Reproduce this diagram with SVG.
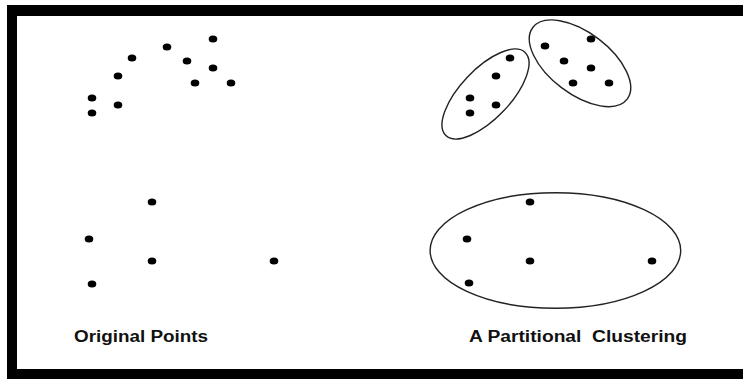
<svg xmlns="http://www.w3.org/2000/svg" width="743" height="379" viewBox="0 0 743 379">
  <style>
    .pt { fill: #000; }
    .hull { fill: none; stroke: #222; stroke-width: 1.4; }
    .lbl { font-family: "Liberation Sans", Arial, sans-serif; font-weight: bold; font-size: 16px; fill: #111; }
  </style>
  <defs>
    <ellipse id="dot" cx="0" cy="0" rx="4.3" ry="3.6"/>
  </defs>
  <rect width="743" height="379" fill="#fff"/>

  <!-- frame -->
  <g id="frame" fill="#000">
    <rect x="7" y="5" width="736" height="11"/>
    <rect x="7" y="5" width="10" height="373"/>
    <rect x="7" y="369" width="736" height="10"/>
  </g>

  <!-- left panel: unclustered points -->
  <g id="original-points" class="pt">
    <use href="#dot" x="213" y="39"/>
    <use href="#dot" x="167" y="47"/>
    <use href="#dot" x="132" y="58"/>
    <use href="#dot" x="187" y="61"/>
    <use href="#dot" x="213" y="68"/>
    <use href="#dot" x="118" y="76"/>
    <use href="#dot" x="195" y="83"/>
    <use href="#dot" x="231" y="83"/>
    <use href="#dot" x="92" y="98"/>
    <use href="#dot" x="118" y="105"/>
    <use href="#dot" x="92" y="113"/>
    <use href="#dot" x="152" y="202"/>
    <use href="#dot" x="89" y="239"/>
    <use href="#dot" x="152" y="261"/>
    <use href="#dot" x="274" y="261"/>
    <use href="#dot" x="92" y="284"/>
  </g>

  <!-- right panel: three clusters -->
  <g id="cluster-1">
    <ellipse class="hull" cx="485.5" cy="94" rx="57.4" ry="24.8" transform="rotate(-46.4 485.5 94)"/>
    <g class="pt">
      <use href="#dot" x="510" y="58"/>
      <use href="#dot" x="496" y="76"/>
      <use href="#dot" x="470" y="98"/>
      <use href="#dot" x="496" y="105"/>
      <use href="#dot" x="470" y="113"/>
    </g>
  </g>
  <g id="cluster-2">
    <ellipse class="hull" cx="580" cy="63.3" rx="59.2" ry="30.6" transform="rotate(37.2 580 63.3)"/>
    <g class="pt">
      <use href="#dot" x="591" y="39"/>
      <use href="#dot" x="545" y="46"/>
      <use href="#dot" x="564" y="61"/>
      <use href="#dot" x="591" y="68"/>
      <use href="#dot" x="573" y="83"/>
      <use href="#dot" x="609" y="83"/>
    </g>
  </g>
  <g id="cluster-3">
    <ellipse class="hull" cx="555.4" cy="250.5" rx="125.3" ry="57.8"/>
    <g class="pt">
      <use href="#dot" x="530" y="202"/>
      <use href="#dot" x="467" y="239"/>
      <use href="#dot" x="530" y="261"/>
      <use href="#dot" x="652" y="261"/>
      <use href="#dot" x="469" y="283"/>
    </g>
  </g>

  <!-- captions -->
  <text class="lbl" x="74" y="342" textLength="134" lengthAdjust="spacingAndGlyphs">Original Points</text>
  <text class="lbl" x="469" y="342" textLength="218" lengthAdjust="spacingAndGlyphs" xml:space="preserve">A Partitional  Clustering</text>
</svg>
